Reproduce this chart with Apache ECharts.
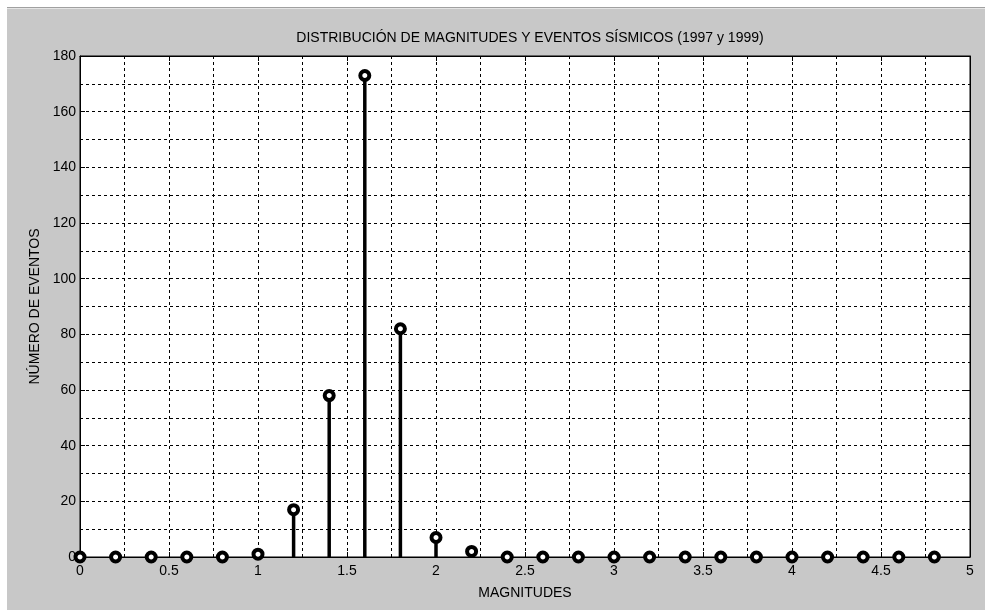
<!DOCTYPE html>
<html>
<head>
<meta charset="utf-8">
<script src="https://cdn.jsdelivr.net/npm/echarts@6/dist/echarts.min.js"></script>
<style>
html,body{margin:0;padding:0;background:#fff;}
#chart{width:985px;height:610px;}
</style>
</head>
<body>
<div id="chart"></div>
<script>
const titleText = 'DISTRIBUCIÓN DE MAGNITUDES Y EVENTOS SÍSMICOS (1997 y 1999)';
const xName = 'MAGNITUDES';
const yName = 'NÚMERO DE EVENTOS';
const magnitudes = [0, 0.2, 0.4, 0.6, 0.8, 1.0, 1.2, 1.4, 1.6, 1.8, 2.0, 2.2, 2.4, 2.6, 2.8, 3.0, 3.2, 3.4, 3.6, 3.8, 4.0, 4.2, 4.4, 4.6, 4.8];
const events =     [0, 0,   0,   0,   0,   1,   17,  58,  173, 82,  7,   2,   0,   0,   0,   0,   0,   0,   0,   0,   0,   0,   0,   0,   0];
const xRange = [0, 5];
const xStep = 0.5;
const yRange = [0, 180];
const yStep = 20;

const FONT = '"Liberation Sans", Arial, sans-serif';
const points = magnitudes.map((m, i) => [m, events[i]]);

const chart = echarts.init(document.getElementById('chart'), null, {renderer: 'canvas'});

const gridLine = {show: true, lineStyle: {color: '#000', type: [3, 3], width: 1}};
function xAx(pos, labels) {
  return {
    type: 'value', position: pos, min: xRange[0], max: xRange[1], interval: xStep,
    axisLine: {show: true, onZero: false, lineStyle: {color: '#000', width: 1}},
    axisTick: {show: true, inside: true, length: 5, lineStyle: {color: '#000'}},
    axisLabel: {show: labels, color: '#000', fontFamily: FONT, fontSize: 14, margin: 7,
      formatter: v => String(+v.toFixed(2))},
    splitLine: labels ? gridLine : {show: false},
    minorTick: {show: false, splitNumber: 2},
    minorSplitLine: labels ? gridLine : {show: false},
    name: labels ? xName : '', nameLocation: 'middle', nameGap: 29,
    nameTextStyle: {color: '#000', fontFamily: FONT, fontSize: 14}
  };
}
function yAx(pos, labels) {
  return {
    type: 'value', position: pos, min: yRange[0], max: yRange[1], interval: yStep,
    axisLine: {show: true, onZero: false, lineStyle: {color: '#000', width: 1}},
    axisTick: {show: true, inside: true, length: 5, lineStyle: {color: '#000'}},
    axisLabel: {show: labels, color: '#000', fontFamily: FONT, fontSize: 14, margin: 4},
    splitLine: labels ? gridLine : {show: false},
    minorTick: {show: false, splitNumber: 2},
    minorSplitLine: labels ? gridLine : {show: false},
    name: labels ? yName : '', nameLocation: 'middle', nameGap: 36,
    nameTextStyle: {color: '#000', fontFamily: FONT, fontSize: 14}
  };
}

chart.setOption({
  backgroundColor: '#fff',
  animation: false,
  graphic: [
    {type: 'rect', z: -10, silent: true, shape: {x: 7, y: 8, width: 978, height: 602}, style: {fill: '#c8c8c8'}},
    {type: 'line', z: -9, silent: true, shape: {x1: 7, y1: 7.5, x2: 985, y2: 7.5}, style: {stroke: '#a0a0a0', lineWidth: 1}},
    {type: 'line', z: -9, silent: true, shape: {x1: 7, y1: 8.5, x2: 985, y2: 8.5}, style: {stroke: '#e4e4e4', lineWidth: 1}}
  ],
  title: {
    text: titleText, left: 525, top: 26, textAlign: 'center',
    textStyle: {color: '#000', fontFamily: FONT, fontSize: 14, fontWeight: 'normal'}
  },
  grid: {left: 80, right: 15, top: 56, bottom: 53, show: true, backgroundColor: '#fff', borderColor: '#000', borderWidth: 1},
  xAxis: [xAx('bottom', true), xAx('top', false)],
  yAxis: [yAx('left', true), yAx('right', false)],
  series: [
    {
      type: 'custom', xAxisIndex: 0, yAxisIndex: 0, data: points, clip: false, z: 3,
      renderItem: function (params, api) {
        const x = api.value(0), y = api.value(1);
        const p0 = api.coord([x, 0]);
        const p1 = api.coord([x, y]);
        return {type: 'line', shape: {x1: p0[0], y1: p0[1], x2: p1[0], y2: p1[1]},
          style: {stroke: '#000', lineWidth: 3.5}};
      }
    },
    {
      type: 'scatter', xAxisIndex: 0, yAxisIndex: 0, data: points, clip: false, z: 4,
      symbol: 'circle', symbolSize: 9,
      itemStyle: {color: '#fff', borderColor: '#000', borderWidth: 4, opacity: 1}
    }
  ]
});
</script>
</body>
</html>
